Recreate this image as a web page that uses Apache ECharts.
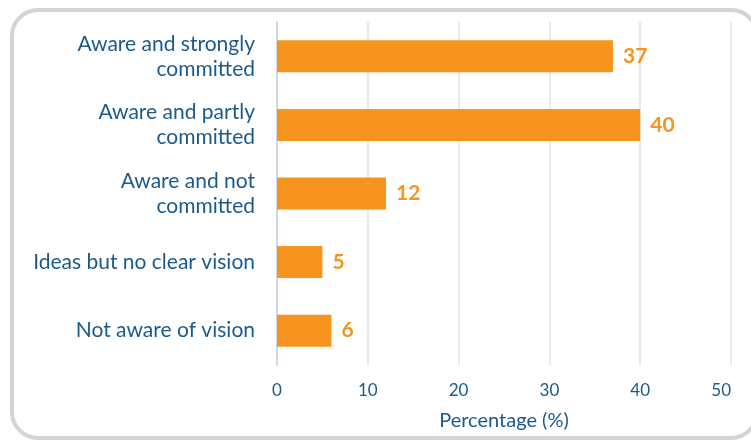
<!DOCTYPE html>
<html>
<head>
<meta charset="utf-8">
<script src="https://cdn.jsdelivr.net/npm/echarts@6/dist/echarts.min.js"></script>
<style>
  html, body { margin: 0; padding: 0; background: #fff; }
  #chart { width: 751px; height: 441px; }
</style>
</head>
<body>
<div id="chart"></div>
<script>
const categories = [
  "Aware and strongly\ncommitted",
  "Aware and partly\ncommitted",
  "Aware and not\ncommitted",
  "Ideas but no clear vision",
  "Not aware of vision"
];
const percentages = [37, 40, 12, 5, 6];
const xTicks = { min: 0, max: 50, interval: 10 };

const orange = "#f7941d";
const blue = "#1b5a8c";

const chart = echarts.init(document.getElementById("chart"));
chart.setOption({
  animation: false,
  textStyle: { fontFamily: "Lato" },
  graphic: [
    {
      type: "rect",
      shape: { x: 12, y: 10, width: 745, height: 428, r: 26 },
      style: { fill: "none", stroke: "#d4d4d4", lineWidth: 4 },
      z: -1
    }
  ],
  grid: { left: 277, right: 20, top: 22, bottom: 76 },
  xAxis: {
    type: "value",
    min: xTicks.min,
    max: xTicks.max,
    interval: xTicks.interval,
    name: "Percentage (%)",
    nameLocation: "middle",
    nameGap: 46,
    nameTextStyle: { color: blue, fontSize: 20, fontFamily: "Lato" },
    axisLine: { show: false },
    axisTick: { show: false },
    axisLabel: { color: blue, fontSize: 17, margin: 17, alignMaxLabel: "right" },
    splitLine: { lineStyle: { color: "#e3e3e3", width: 1.5 } }
  },
  yAxis: {
    type: "category",
    data: categories,
    inverse: true,
    axisLine: { lineStyle: { color: "#cfd8e8", width: 2 } },
    axisTick: { length: 14, lineStyle: { color: "#cfd8e8", width: 2 } },
    axisLabel: { color: blue, fontSize: 21, lineHeight: 25, margin: 22, align: "right", padding: [3, 0, 0, 0] }
  },
  series: [
    {
      type: "bar",
      data: percentages,
      barWidth: 32,
      itemStyle: { color: orange },
      label: {
        show: true,
        position: "right",
        distance: 10,
        color: orange,
        fontSize: 21,
        fontWeight: "bold",
        fontFamily: "Lato"
      }
    }
  ]
});
</script>
</body>
</html>
